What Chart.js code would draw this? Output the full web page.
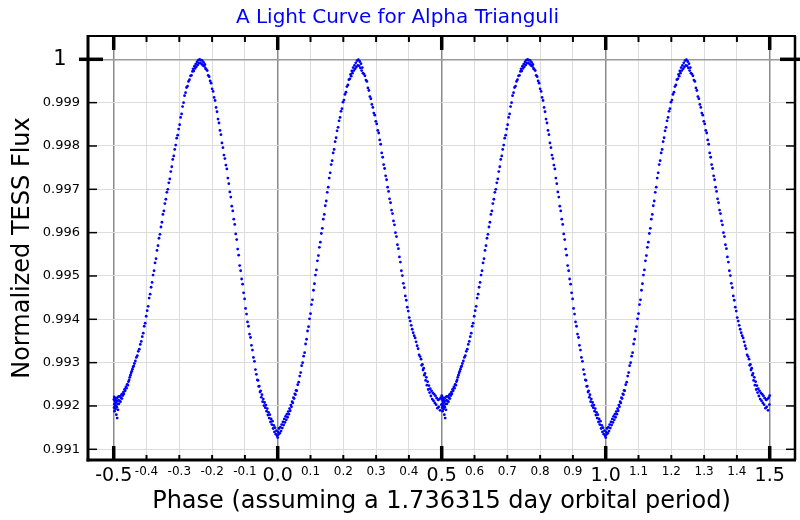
<!DOCTYPE html>
<html><head><meta charset="utf-8">
<script src="https://cdn.jsdelivr.net/npm/chart.js@4"></script>
<style>html,body{margin:0;padding:0;background:#fff}canvas{display:block}</style>
</head><body>
<canvas id="c" width="800" height="520"></canvas>
<script>
const chartTitle = 'A Light Curve for Alpha Trianguli';
const xTitle = 'Phase (assuming a 1.736315 day orbital period)';
const yTitle = 'Normalized TESS Flux';

const xTickValues = [-0.5,-0.4,-0.3,-0.2,-0.1,0.0,0.1,0.2,0.3,0.4,0.5,0.6,0.7,0.8,0.9,1.0,1.1,1.2,1.3,1.4,1.5];
const xTickLabels = ['-0.5','-0.4','-0.3','-0.2','-0.1','0.0','0.1','0.2','0.3','0.4','0.5','0.6','0.7','0.8','0.9','1.0','1.1','1.2','1.3','1.4','1.5'];
const yTickValues = [0.991,0.992,0.993,0.994,0.995,0.996,0.997,0.998,0.999,1];
const yTickLabels = ['0.991','0.992','0.993','0.994','0.995','0.996','0.997','0.998','0.999','1'];

// phase-folded light curve, one cycle (-0.5 .. 0.5); drawn twice (shifted by one orbit)
const phase = [
-0.4995,-0.4990,-0.4985,-0.4980,-0.4975,-0.4970,-0.4965,-0.4960,-0.4950,-0.4945,
-0.4940,-0.4930,-0.4920,-0.4915,-0.4905,-0.4895,-0.4890,-0.4880,-0.4870,-0.4860,
-0.4850,-0.4840,-0.4825,-0.4810,-0.4795,-0.4780,-0.4765,-0.4750,-0.4735,-0.4720,
-0.4705,-0.4690,-0.4670,-0.4650,-0.4630,-0.4610,-0.4590,-0.4570,-0.4550,-0.4530,
-0.4510,-0.4490,-0.4470,-0.4450,-0.4430,-0.4410,-0.4390,
-0.437,-0.434,-0.431,-0.428,-0.425,-0.422,-0.419,-0.416,-0.413,-0.410,
-0.407,-0.404,-0.401,-0.398,-0.395,-0.392,-0.389,-0.386,-0.383,-0.380,
-0.377,-0.374,-0.371,-0.368,-0.365,-0.362,-0.359,-0.356,-0.353,-0.350,
-0.347,-0.344,-0.341,-0.338,-0.335,-0.332,-0.329,-0.326,-0.323,-0.320,
-0.317,-0.314,-0.311,-0.308,-0.305,-0.302,-0.299,-0.296,-0.293,-0.290,
-0.287,-0.284,-0.281,-0.278,-0.275,-0.272,-0.269,-0.266,-0.263,-0.260,
-0.258,-0.256,-0.254,-0.252,-0.250,-0.248,-0.246,-0.244,-0.242,-0.240,
-0.238,-0.236,-0.234,-0.232,-0.230,-0.228,-0.226,-0.224,-0.222,-0.220,-0.218,
-0.215,-0.212,-0.209,-0.206,-0.203,-0.200,-0.197,-0.194,-0.191,-0.188,
-0.185,-0.182,-0.179,-0.176,-0.173,-0.170,-0.167,-0.164,-0.161,-0.158,
-0.155,-0.152,-0.149,-0.146,-0.143,-0.140,-0.137,-0.134,-0.131,-0.128,
-0.125,-0.122,-0.119,-0.116,-0.113,-0.110,-0.107,-0.104,-0.101,-0.098,
-0.095,-0.092,-0.089,-0.086,-0.083,-0.080,-0.077,-0.074,-0.071,-0.068,-0.065,
-0.062,-0.060,-0.058,-0.056,-0.054,-0.052,-0.050,-0.048,-0.046,-0.044,
-0.042,-0.040,-0.038,-0.036,-0.034,-0.032,-0.030,-0.028,-0.026,-0.024,
-0.022,-0.020,-0.018,-0.016,-0.014,-0.012,-0.010,-0.008,-0.006,-0.004,
-0.002,0.000,0.001,0.002,0.004,0.006,0.008,0.010,0.012,0.014,
0.016,0.018,0.020,0.022,0.024,0.026,0.028,0.030,0.032,0.034,
0.036,0.038,0.040,0.042,0.044,0.046,0.048,0.050,0.052,0.054,
0.056,0.058,
0.061,0.064,0.067,0.070,0.073,0.076,0.079,0.082,0.085,0.088,
0.091,0.094,0.097,0.100,0.103,0.106,0.109,0.112,0.115,0.118,
0.121,0.124,0.127,0.130,0.133,0.136,0.139,0.142,0.145,0.148,
0.151,0.154,0.157,0.160,0.163,0.166,0.169,0.172,0.175,0.178,
0.181,0.184,0.187,0.190,0.193,0.196,0.199,0.202,0.205,0.208,
0.211,0.214,0.217,0.220,
0.222,0.224,0.226,0.228,0.230,0.232,0.234,0.236,0.238,0.240,
0.242,0.244,0.246,0.248,0.250,0.252,0.254,0.256,0.258,0.260,
0.263,0.266,0.269,0.272,0.275,0.278,0.281,0.284,0.287,0.290,
0.293,0.296,0.299,0.302,0.305,0.308,0.311,0.314,0.317,0.320,
0.323,0.326,0.329,0.332,0.335,0.338,0.341,0.344,0.347,0.350,
0.353,0.356,0.359,0.362,0.365,0.368,0.371,0.374,0.377,0.380,
0.383,0.386,0.389,0.392,0.395,0.398,0.401,0.404,0.407,0.410,
0.413,0.416,0.419,0.422,0.425,0.428,0.431,0.434,
0.437,0.439,0.441,0.443,0.445,0.447,0.449,0.451,0.453,0.455,
0.457,0.459,0.461,0.463,0.465,0.467,0.469,0.471,0.473,0.475,
0.477,0.479,0.481,0.483,0.485,0.487,0.489,0.491,0.493,0.495,
0.497,0.499,0.500
];
const flux = [
0.99215,0.99196,0.99221,0.99204,0.99188,0.99212,0.99199,0.99218,0.99207,0.99193,
0.99214,0.99201,0.99180,0.99210,0.99197,0.99172,0.99219,0.99205,0.99191,0.99213,
0.99222,0.99205,0.99212,0.99222,0.99210,0.99219,0.99226,0.99217,0.99228,0.99224,
0.99232,0.99228,0.99238,0.99235,0.99244,0.99241,0.99250,0.99248,0.99256,0.99260,
0.99266,0.99271,0.99276,0.99280,0.99285,0.99290,0.99292,
0.99298,0.99304,0.99312,0.99316,0.99326,0.99331,0.99342,0.99349,0.99360,0.99368,
0.99384,0.99391,0.99407,0.99420,0.99430,0.99449,0.99458,0.99474,0.99485,0.99502,
0.99512,0.99530,0.99540,0.99559,0.99570,0.99587,0.99596,0.99613,0.99624,0.99642,
0.99650,0.99667,0.99677,0.99693,0.99700,0.99715,0.99724,0.99741,0.99752,0.99769,
0.99777,0.99792,0.99802,0.99818,0.99825,0.99839,0.99849,0.99866,0.99874,0.99891,
0.99900,0.99916,0.99923,0.99935,0.99938,0.99949,0.99953,0.99962,0.99963,0.99972,
0.99978,0.99973,0.99984,0.99979,0.99989,0.99983,0.99994,0.99987,0.99998,0.99991,
1.00000,0.99992,0.99998,0.99989,0.99997,0.99986,0.99993,0.99984,0.99988,0.99979,0.99977,
0.99974,0.99963,0.99960,0.99950,0.99945,0.99932,0.99926,0.99912,0.99905,0.99889,
0.99879,0.99862,0.99853,0.99836,0.99826,0.99807,0.99796,0.99779,0.99771,0.99756,
0.99747,0.99726,0.99713,0.99694,0.99682,0.99661,0.99650,0.99631,0.99619,0.99597,
0.99584,0.99562,0.99548,0.99524,0.99512,0.99493,0.99481,0.99461,0.99447,0.99425,
0.99412,0.99394,0.99384,0.99366,0.99358,0.99340,0.99329,0.99312,0.99303,0.99284,0.99273,
0.99260,0.99259,0.99245,0.99246,0.99232,0.99235,0.99220,0.99226,0.99210,0.99216,
0.99201,0.99208,0.99196,0.99202,0.99188,0.99194,0.99179,0.99185,0.99172,0.99180,
0.99163,0.99170,0.99157,0.99165,0.99148,0.99155,0.99140,0.99150,0.99135,0.99143,
0.99131,0.99127,0.99140,0.99134,0.99148,0.99137,0.99151,0.99142,0.99157,0.99149,
0.99163,0.99156,0.99170,0.99162,0.99176,0.99168,0.99181,0.99174,0.99187,0.99181,
0.99194,0.99189,0.99202,0.99198,0.99210,0.99207,0.99219,0.99217,0.99228,0.99226,
0.99236,0.99235,
0.99249,0.99255,0.99269,0.99277,0.99293,0.99300,0.99315,0.99323,0.99343,0.99354,
0.99373,0.99383,0.99401,0.99413,0.99434,0.99445,0.99467,0.99482,0.99502,0.99514,
0.99535,0.99547,0.99566,0.99578,0.99598,0.99610,0.99631,0.99642,0.99662,0.99673,
0.99693,0.99705,0.99726,0.99738,0.99757,0.99766,0.99784,0.99792,0.99810,0.99819,
0.99835,0.99843,0.99858,0.99866,0.99880,0.99886,0.99901,0.99906,0.99919,0.99924,
0.99937,0.99941,0.99953,0.99955,
0.99965,0.99961,0.99973,0.99968,0.99981,0.99974,0.99986,0.99978,0.99992,0.99982,
0.99997,0.99986,0.99999,0.99985,0.99995,0.99980,0.99990,0.99974,0.99981,0.99968,
0.99966,0.99962,0.99952,0.99949,0.99934,0.99928,0.99914,0.99909,0.99896,0.99889,
0.99876,0.99871,0.99857,0.99851,0.99836,0.99830,0.99814,0.99804,0.99784,0.99774,
0.99757,0.99748,0.99731,0.99722,0.99705,0.99695,0.99678,0.99669,0.99652,0.99644,
0.99627,0.99618,0.99600,0.99591,0.99572,0.99563,0.99544,0.99532,0.99512,0.99501,
0.99483,0.99473,0.99454,0.99444,0.99428,0.99419,0.99404,0.99396,0.99386,0.99377,
0.99369,0.99362,0.99357,0.99348,0.99339,0.99332,0.99318,0.99314,
0.99308,0.99294,0.99296,0.99283,0.99287,0.99271,0.99275,0.99259,0.99266,0.99248,
0.99256,0.99238,0.99247,0.99231,0.99240,0.99223,0.99235,0.99216,0.99230,0.99212,
0.99227,0.99207,0.99223,0.99203,0.99218,0.99195,0.99214,0.99198,0.99216,0.99190,
0.99219,0.99203,0.99224
];
const cycleShift = [0, 1];

const FONT = 'DejaVu Sans';
const isMajorX = v => Math.abs(v * 2 - Math.round(v * 2)) < 1e-6;
const tickVal = ctx => (ctx && ctx.tick) ? ctx.tick.value : null;

const points = [];
cycleShift.forEach(s => phase.forEach((p, i) => points.push({x: p + s, y: flux[i]})));

const framePlugin = {
  id: 'frame',
  afterDraw(chart) {
    const {ctx, chartArea: a, scales: {x, y}} = chart;
    ctx.save();
    ctx.strokeStyle = '#000';
    ctx.lineCap = 'butt';
    const line = (x1, y1, x2, y2, w) => { ctx.lineWidth = w; ctx.beginPath(); ctx.moveTo(x1, y1); ctx.lineTo(x2, y2); ctx.stroke(); };
    xTickValues.forEach(v => {
      const px = x.getPixelForValue(v);
      if (isMajorX(v)) { line(px, a.bottom + 1, px, a.bottom - 14, 3.5); line(px, a.top, px, a.top + 14, 3.5); }
      else { line(px, a.bottom, px, a.bottom - 5, 2); line(px, a.top, px, a.top + 6, 2); }
    });
    yTickValues.forEach(v => {
      const py = y.getPixelForValue(v);
      if (v === 1) { line(a.left - 9, py, a.left + 15, py, 3.5); line(a.right - 15, py, a.right + 5, py, 3.5); }
      else { line(a.left, py, a.left + 9, py, 1.5); line(a.right - 9, py, a.right, py, 1.5); }
    });
    line(a.left, a.top, a.right + 1, a.top, 2);
    line(a.right, a.top, a.right, a.bottom, 2.5);
    line(a.left, a.top - 1, a.left, a.bottom + 1.5, 3);
    line(a.left - 1.5, a.bottom, a.right + 1, a.bottom, 3);
    ctx.restore();
  }
};

Chart.defaults.color = '#000';
Chart.defaults.font.family = FONT;

new Chart(document.getElementById('c'), {
  type: 'scatter',
  data: {
    datasets: [{
      label: 'TESS flux',
      data: points,
      backgroundColor: '#0000ff',
      borderWidth: 0,
      pointRadius: 1.4,
      pointHoverRadius: 1.4
    }]
  },
  options: {
    responsive: false,
    animation: false,
    devicePixelRatio: 1,
    layout: {padding: {left: 0, right: 5, top: 0, bottom: 0}},
    plugins: {
      legend: {display: false},
      tooltip: {enabled: false},
      title: {
        display: true, text: chartTitle, color: '#0000ff',
        font: {family: FONT, size: 20, weight: 'normal'},
        padding: {top: 6, bottom: 6}
      }
    },
    scales: {
      x: {
        type: 'linear', min: -0.5784, max: 1.5771,
        afterFit: s => { s.height = 60; },
        afterBuildTicks: s => { s.ticks = xTickValues.map(v => ({value: v})); },
        ticks: {
          autoSkip: false, maxRotation: 0, minRotation: 0, padding: 5, color: '#000',
          callback: (v, i) => xTickLabels[i],
          font: ctx => { const v = tickVal(ctx); return (v !== null && isMajorX(v)) ? {family: FONT, size: 19} : {family: FONT, size: 12}; }
        },
        grid: {
          drawTicks: false,
          color: ctx => { const v = tickVal(ctx); return (v !== null && isMajorX(v)) ? '#8a8a8a' : '#dcdcdc'; },
          lineWidth: ctx => { const v = tickVal(ctx); return (v !== null && isMajorX(v)) ? 1.5 : 1; }
        },
        border: {display: false},
        title: {display: true, text: xTitle, color: '#000', font: {family: FONT, size: 24}, padding: {top: 0, bottom: 4}}
      },
      y: {
        type: 'linear', min: 0.990753, max: 1.000538,
        afterFit: s => { s.width = 88; },
        afterBuildTicks: s => { s.ticks = yTickValues.map(v => ({value: v})); },
        ticks: {
          autoSkip: false, padding: 8, color: '#000',
          callback: (v, i) => yTickLabels[i] + (yTickValues[i] === 1 ? '  ' : ''),
          font: ctx => tickVal(ctx) === 1 ? {family: FONT, size: 21} : {family: FONT, size: 13}
        },
        grid: {
          drawTicks: false,
          color: ctx => tickVal(ctx) === 1 ? '#9a9a9a' : '#dcdcdc',
          lineWidth: ctx => tickVal(ctx) === 1 ? 1.5 : 1
        },
        border: {display: false},
        title: {display: true, text: yTitle, color: '#000', font: {family: FONT, size: 24}, padding: {top: 8, bottom: 0}}
      }
    }
  },
  plugins: [framePlugin]
});
</script>
</body></html>
